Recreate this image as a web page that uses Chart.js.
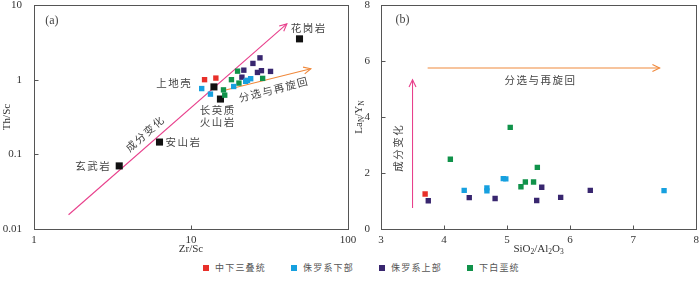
<!DOCTYPE html>
<html>
<head>
<meta charset="utf-8">
<script src="https://cdn.jsdelivr.net/npm/chart.js@4.4.1/dist/chart.umd.min.js"></script>
<style>
  body { margin: 0; background: #fff; }
  #wrap { position: relative; width: 700px; height: 281px; overflow: hidden; }
  #boxA { position: absolute; left: 0; top: 0; }
  #boxB { position: absolute; left: 350px; top: 0; }
  #legend { position: absolute; left: 203px; top: 261px; display: flex;
            font: 9px "Noto Sans CJK SC", sans-serif; letter-spacing: 1.2px; color: #555; }
  #legend .item { width: 88px; display: flex; align-items: center; }
  #legend .sw { width: 6px; height: 6px; margin-right: 6px; }
</style>
</head>
<body>
<div id="wrap">
  <div id="boxA"><canvas id="chartA" width="365" height="255"></canvas></div>
  <div id="boxB"><canvas id="chartB" width="350" height="255"></canvas></div>
  <div id="legend"></div>
</div>
<script>
/* series */
const seriesNames = ['中下三叠统', '侏罗系下部', '侏罗系上部', '下白垩统'];
const seriesColors = ['#e8302a', '#16a0df', '#38266f', '#10924a'];

/* (a) Th/Sc vs Zr/Sc */
const triasZr = [12.2, 14.4];
const triasTh = [1.0, 1.05];
const lowJurZr = [11.7, 13.3, 18.7, 22.3, 22.9, 24.0];
const lowJurTh = [0.76, 0.64, 0.81, 0.95, 0.98, 1.03];
const upJurZr = [21.7, 21.1, 24.8, 27.5, 26.5, 28.1, 32.1];
const upJurTh = [1.34, 1.08, 1.65, 1.96, 1.25, 1.32, 1.29];
const cretZr = [19.8, 18.1, 20.2, 16.1, 16.4, 28.6];
const cretTh = [1.30, 1.0, 0.90, 0.73, 0.62, 1.04];
const refNames = ['花岗岩', '上地壳', '长英质火山岩', '安山岩', '玄武岩'];
const refZr = [49.1, 14.0, 15.4, 6.3, 3.49];
const refTh = [3.52, 0.80, 0.55, 0.146, 0.070];
const zrTicks = [1, 10, 100];
const thTicks = [0.01, 0.1, 1, 10];

/* (b) LaN/YN vs SiO2/Al2O3 */
const triasSi = [3.70];
const triasLa = [1.25];
const lowJurSi = [4.32, 4.68, 4.68, 4.94, 4.98, 7.49];
const lowJurLa = [1.38, 1.47, 1.36, 1.80, 1.79, 1.37];
const upJurSi = [3.75, 4.40, 4.81, 5.47, 5.55, 5.85, 6.32];
const upJurLa = [1.01, 1.12, 1.09, 1.02, 1.49, 1.13, 1.38];
const cretSi = [4.10, 5.05, 5.22, 5.29, 5.42, 5.48];
const cretLa = [2.49, 3.63, 1.51, 1.68, 1.68, 2.20];
const siTicks = [3, 4, 5, 6, 7, 8];
const laTicks = [0, 2, 4, 6, 8];

const serif = '"Liberation Serif", "Times New Roman", serif';
const cjk = '"Noto Sans CJK SC", sans-serif';
const PINK = '#e8408c';
const ORANGE = '#f0893c';

function pts(xs, ys) { return xs.map((x, i) => ({ x: x, y: ys[i] })); }

function dataset(label, xs, ys, color, r) {
  return { label: label, data: pts(xs, ys), backgroundColor: color, borderWidth: 0,
           pointStyle: 'rect', pointRadius: r, pointHoverRadius: r };
}

/* frame round the plot and small inward ticks */
const frame = {
  id: 'frame',
  afterDraw(chart) {
    const { ctx, chartArea: a, scales } = chart;
    ctx.save();
    ctx.strokeStyle = '#555';
    ctx.lineWidth = 1;
    const l = Math.round(a.left) + 0.5, t = Math.round(a.top) + 0.5;
    const r = Math.round(a.right) + 0.5, b = Math.round(a.bottom) + 0.5;
    ctx.strokeRect(l, t, r - l, b - t);
    ctx.beginPath();
    scales.x.ticks.forEach(tk => {
      const px = Math.round(scales.x.getPixelForValue(tk.value)) + 0.5;
      ctx.moveTo(px, b); ctx.lineTo(px, b - 4);
    });
    scales.y.ticks.forEach(tk => {
      const py = Math.round(scales.y.getPixelForValue(tk.value)) + 0.5;
      ctx.moveTo(l, py); ctx.lineTo(l + 4, py);
    });
    ctx.stroke();
    ctx.restore();
  }
};

/* text with subscripts, centred on x,y */
function richText(ctx, parts, x, y, rot) {
  const big = '11px ' + serif, small = '7.5px ' + serif;
  let w = 0;
  parts.forEach(p => { ctx.font = p[1] ? small : big; w += ctx.measureText(p[0]).width; });
  ctx.save();
  ctx.translate(x, y);
  ctx.rotate(rot);
  ctx.textBaseline = 'middle';
  ctx.textAlign = 'left';
  ctx.fillStyle = '#333';
  let cx = -w / 2;
  parts.forEach(p => {
    ctx.font = p[1] ? small : big;
    ctx.fillText(p[0], cx, p[1] ? 3.5 : 0);
    cx += ctx.measureText(p[0]).width;
  });
  ctx.restore();
}

function arrowHead(ctx, x0, y0, x1, y1) {
  const ang = Math.atan2(y1 - y0, x1 - x0), s = 8, w = 0.45;
  ctx.beginPath();
  ctx.moveTo(x1 - s * Math.cos(ang - w), y1 - s * Math.sin(ang - w));
  ctx.lineTo(x1, y1);
  ctx.lineTo(x1 - s * Math.cos(ang + w), y1 - s * Math.sin(ang + w));
  ctx.stroke();
}

/* arrows, labels and axis titles for one panel */
function makeNotes(cfg) {
  return {
    id: 'notes',
    beforeDatasetsDraw(chart) {
      const { ctx, scales } = chart;
      ctx.save();
      ctx.lineWidth = 1.1;
      cfg.arrows.forEach(ar => {
        const x0 = scales.x.getPixelForValue(ar.from[0]), y0 = scales.y.getPixelForValue(ar.from[1]);
        const x1 = scales.x.getPixelForValue(ar.to[0]), y1 = scales.y.getPixelForValue(ar.to[1]);
        ctx.strokeStyle = ar.color;
        ctx.beginPath(); ctx.moveTo(x0, y0); ctx.lineTo(x1, y1); ctx.stroke();
        arrowHead(ctx, x0, y0, x1, y1);
      });
      ctx.restore();
    },
    afterDraw(chart) {
      const { ctx, scales, chartArea: a } = chart;
      ctx.save();
      cfg.texts.forEach(tx => {
        const x = scales.x.getPixelForValue(tx.at[0]), y = scales.y.getPixelForValue(tx.at[1]);
        ctx.save();
        ctx.translate(x, y);
        ctx.rotate((tx.rot || 0) * Math.PI / 180);
        ctx.font = tx.font || ('10.5px ' + cjk);
        ctx.letterSpacing = tx.spacing || '1.5px';
        ctx.fillStyle = '#444';
        ctx.textAlign = tx.align || 'center';
        ctx.textBaseline = 'middle';
        ctx.fillText(tx.text, 0, 0);
        ctx.restore();
      });
      ctx.restore();
      richText(ctx, cfg.xTitle, (a.left + a.right) / 2, a.bottom + 20, 0);
      richText(ctx, cfg.yTitle, cfg.yTitleX, (a.top + a.bottom) / 2, -Math.PI / 2);
    }
  };
}

function axis(type, min, max, tickValues, horizontal, size, padding) {
  return {
    type: type, min: min, max: max,
    grid: { display: false }, border: { display: false },
    ticks: { font: { family: serif, size: 11 }, color: '#333', padding: padding,
             maxRotation: 0, autoSkip: false, callback: v => String(v) },
    afterBuildTicks: s => { s.ticks = tickValues.map(v => ({ value: v })); },
    afterFit: s => {
      if (horizontal) s.height = size; else s.width = size;
      s.paddingLeft = 0; s.paddingRight = 0; s.paddingTop = 0; s.paddingBottom = 0;
    }
  };
}

function baseOptions(xAxis, yAxis, rightPad) {
  return {
    responsive: false, animation: false, events: [],
    layout: { padding: { top: 5, right: rightPad, left: 0, bottom: 0 } },
    plugins: { legend: { display: false }, tooltip: { enabled: false } },
    scales: { x: xAxis, y: yAxis }
  };
}

new Chart(document.getElementById('chartA'), {
  type: 'scatter',
  data: {
    datasets: [
      dataset(seriesNames[0], triasZr, triasTh, seriesColors[0], 3.8),
      dataset(seriesNames[1], lowJurZr, lowJurTh, seriesColors[1], 3.8),
      dataset(seriesNames[2], upJurZr, upJurTh, seriesColors[2], 3.8),
      dataset(seriesNames[3], cretZr, cretTh, seriesColors[3], 3.8),
      dataset('参考', refZr, refTh, '#111', 5)
    ]
  },
  options: baseOptions(
    axis('logarithmic', 1, 100, zrTicks, true, 26, -3),
    axis('logarithmic', 0.01, 10, thTicks, false, 34, 4),
    17
  ),
  plugins: [frame, makeNotes({
    arrows: [
      { from: [1.66, 0.0155], to: [40.8, 5.58], color: PINK },
      { from: [16.4, 0.72], to: [58, 1.40], color: ORANGE }
    ],
    texts: [
      { text: '(a)', at: [1.18, 6.18], align: 'left', font: '12px ' + serif, spacing: '0px' },
      { text: refNames[0], at: [43.2, 4.98], align: 'left' },
      { text: refNames[1], at: [10.2, 0.89], align: 'right' },
      { text: '长英质', at: [14.8, 0.39] },
      { text: '火山岩', at: [14.8, 0.27] },
      { text: refNames[3], at: [6.87, 0.146], align: 'left' },
      { text: refNames[4], at: [3.1, 0.070], align: 'right' },
      { text: '成分变化', at: [5.1, 0.19], rot: -41.4 },
      { text: '分选与再旋回', at: [33.7, 0.742], rot: -14.2 }
    ],
    xTitle: [['Zr/Sc', false]],
    yTitle: [['Th/Sc', false]],
    yTitleX: 7
  })]
});

new Chart(document.getElementById('chartB'), {
  type: 'scatter',
  data: {
    datasets: [
      dataset(seriesNames[0], triasSi, triasLa, seriesColors[0], 3.8),
      dataset(seriesNames[1], lowJurSi, lowJurLa, seriesColors[1], 3.8),
      dataset(seriesNames[2], upJurSi, upJurLa, seriesColors[2], 3.8),
      dataset(seriesNames[3], cretSi, cretLa, seriesColors[3], 3.8)
    ]
  },
  options: baseOptions(
    axis('linear', 3, 8, siTicks, true, 26, -3),
    axis('linear', 0, 8, laTicks, false, 31, 3),
    2
  ),
  plugins: [frame, makeNotes({
    arrows: [
      { from: [3.5, 0.75], to: [3.5, 5.33], color: PINK },
      { from: [3.74, 5.75], to: [7.42, 5.75], color: ORANGE }
    ],
    texts: [
      { text: '(b)', at: [3.23, 7.47], align: 'left', font: '12px ' + serif, spacing: '0px' },
      { text: '分选与再旋回', at: [5.53, 5.33] },
      { text: '成分变化', at: [3.27, 2.9], rot: -90 }
    ],
    xTitle: [['SiO', false], ['2', true], ['/Al', false], ['2', true], ['O', false], ['3', true]],
    yTitle: [['La', false], ['N', true], ['/Y', false], ['N', true]],
    yTitleX: 9
  })]
});

/* legend */
const legend = document.getElementById('legend');
seriesNames.forEach((name, i) => {
  const item = document.createElement('div');
  item.className = 'item';
  item.innerHTML = `<span class="sw" style="background:${seriesColors[i]}"></span><span>${name}</span>`;
  legend.appendChild(item);
});
</script>
</body>
</html>
